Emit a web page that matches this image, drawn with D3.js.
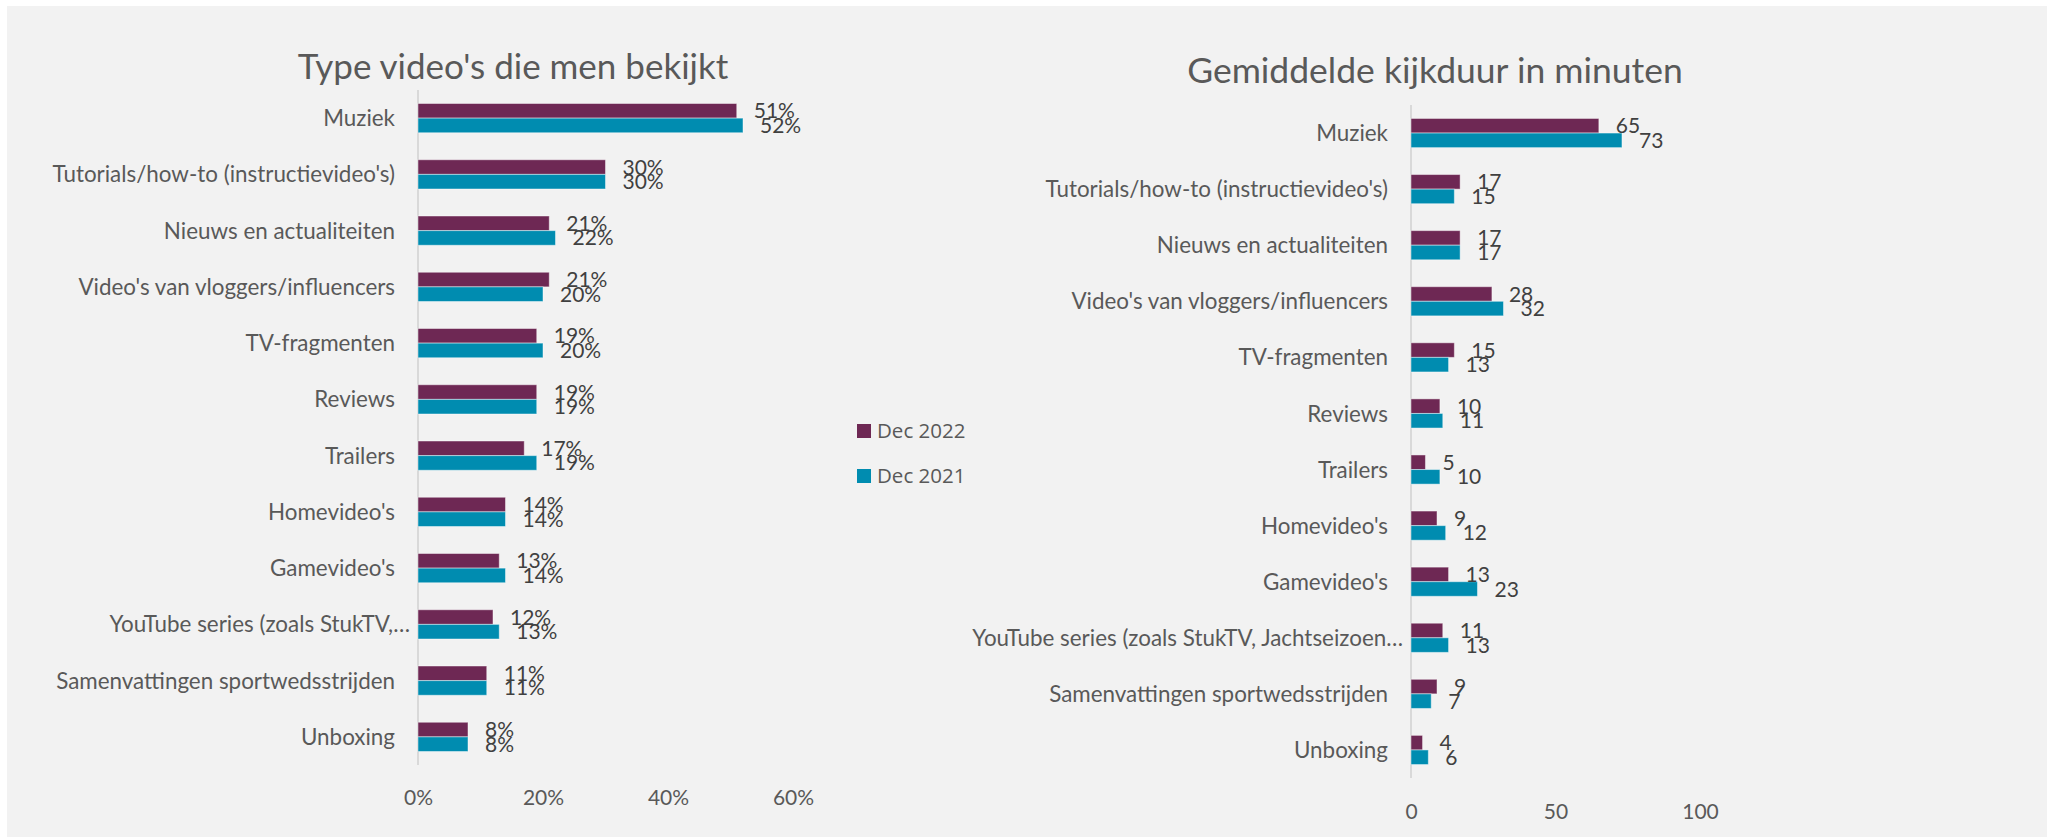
<!DOCTYPE html>
<html>
<head>
<meta charset="utf-8">
<script src="https://cdn.jsdelivr.net/npm/d3@7"></script>
<style>
  html, body { margin: 0; padding: 0; background: #ffffff; }
  svg { display: block; }
</style>
</head>
<body>
<svg id="chart" width="2047" height="837"></svg>
<script>
// Video types and average viewing time, Dec 2022 vs Dec 2021
const categories = [
  "Muziek",
  "Tutorials/how-to (instructievideo's)",
  "Nieuws en actualiteiten",
  "Video's van vloggers/influencers",
  "TV-fragmenten",
  "Reviews",
  "Trailers",
  "Homevideo's",
  "Gamevideo's",
  "YouTube series (zoals StukTV, Jachtseizoen, ...)",
  "Samenvattingen sportwedsstrijden",
  "Unboxing"
];
// Labels as they fit in each panel
const labelsShare = [
  "Muziek", "Tutorials/how-to (instructievideo's)", "Nieuws en actualiteiten",
  "Video's van vloggers/influencers", "TV-fragmenten", "Reviews", "Trailers",
  "Homevideo's", "Gamevideo's", "YouTube series (zoals StukTV,…",
  "Samenvattingen sportwedsstrijden", "Unboxing"
];
const labelsMinutes = [
  "Muziek", "Tutorials/how-to (instructievideo's)", "Nieuws en actualiteiten",
  "Video's van vloggers/influencers", "TV-fragmenten", "Reviews", "Trailers",
  "Homevideo's", "Gamevideo's", "YouTube series (zoals StukTV, Jachtseizoen…",
  "Samenvattingen sportwedsstrijden", "Unboxing"
];

const seriesNames = ["Dec 2022", "Dec 2021"];

// Share of viewers per video type (%)
const share2022 = [51, 30, 21, 21, 19, 19, 17, 14, 13, 12, 11, 8];
const share2021 = [52, 30, 22, 20, 20, 19, 19, 14, 14, 13, 11, 8];

// Average viewing time (minutes)
const minutes2022 = [65, 17, 17, 28, 15, 10, 5, 9, 13, 11, 9, 4];
const minutes2021 = [73, 15, 17, 32, 13, 11, 10, 12, 23, 13, 7, 6];

const shareTicks = [0, 20, 40, 60];
const minuteTicks = [0, 50, 100];

const colors = ["#6E2854", "#008CB0"];
const textColor = "#595959";
const valueColor = "#404040";
const labelFont = "Lato, 'Open Sans', sans-serif";

const svg = d3.select("#chart");

// panel background
svg.append("rect")
  .attr("x", 7).attr("y", 6)
  .attr("width", 2040).attr("height", 831)
  .attr("fill", "#F2F2F2");

function panel(opts) {
  const g = svg.append("g");
  const x = d3.scaleLinear().domain(opts.domain).range([opts.x0, opts.x1]);
  const y = d3.scaleBand().domain(d3.range(categories.length))
    .range([opts.y0, opts.y1]).paddingInner(0.48).paddingOuter(0.24);
  const ySub = d3.scaleBand().domain([0, 1]).range([0, y.bandwidth()]);

  // title
  g.append("text")
    .attr("x", opts.titleX).attr("y", opts.titleY)
    .attr("text-anchor", "middle")
    .attr("font-family", labelFont).attr("font-weight", 400)
    .attr("font-size", opts.titleSize).attr("fill", textColor)
    .text(opts.title);

  // value axis (bottom) – labels only
  const xAxis = d3.axisBottom(x).tickValues(opts.ticks)
    .tickFormat(opts.tickFormat).tickSize(0).tickPadding(0);
  const ax = g.append("g")
    .attr("transform", `translate(0,${opts.tickY})`)
    .call(xAxis);
  ax.select(".domain").remove();
  ax.selectAll("text")
    .attr("font-family", labelFont).attr("font-size", 21)
    .attr("fill", textColor).attr("dy", "0.36em");

  // category axis line
  g.append("line")
    .attr("x1", x(0)).attr("x2", x(0))
    .attr("y1", opts.y0).attr("y2", opts.y1)
    .attr("stroke", "#D0D0D0").attr("stroke-width", 1.5);

  // category labels; truncated ones overhang toward the axis
  g.selectAll("text.cat").data(opts.labels).join("text")
    .attr("class", "cat")
    .attr("x", d => x(0) - (d.endsWith("…") ? 8 : 23))
    .attr("y", (d, i) => y(i) + y.bandwidth() / 2)
    .attr("dy", "0.36em")
    .attr("text-anchor", "end")
    .attr("font-family", labelFont).attr("font-size", 22.4)
    .attr("fill", textColor)
    .text(d => d);

  const rows = [];
  categories.forEach((c, i) => {
    opts.values.forEach((vals, s) => rows.push({ i, s, v: vals[i] }));
  });

  g.selectAll("rect.bar").data(rows).join("rect")
    .attr("class", "bar")
    .attr("x", x(0))
    .attr("y", d => y(d.i) + ySub(d.s))
    .attr("width", d => x(d.v) - x(0))
    .attr("height", ySub.bandwidth())
    .attr("fill", d => colors[d.s])
    .attr("stroke", "rgba(255,255,255,0.45)")
    .attr("stroke-width", 1);

  g.selectAll("text.val").data(rows).join("text")
    .attr("class", "val")
    .attr("x", d => x(d.v) + 17)
    .attr("y", d => y(d.i) + ySub(d.s) + ySub.bandwidth() / 2)
    .attr("dy", "0.36em")
    .attr("font-family", labelFont).attr("font-size", 21)
    .attr("fill", valueColor)
    .text(d => opts.valueFormat(d.v));
}

panel({
  title: "Type video's die men bekijkt",
  titleX: 513, titleY: 79, titleSize: 35,
  domain: [0, 60], x0: 418, x1: 793,
  y0: 90, y1: 765, tickY: 797,
  ticks: shareTicks,
  tickFormat: d => d + "%",
  valueFormat: d => d + "%",
  labels: labelsShare,
  values: [share2022, share2021]
});

panel({
  title: "Gemiddelde kijkduur in minuten",
  titleX: 1435, titleY: 83, titleSize: 35.5,
  domain: [0, 100], x0: 1411, x1: 1700,
  y0: 105, y1: 778, tickY: 811,
  ticks: minuteTicks,
  tickFormat: d => d,
  valueFormat: d => d,
  labels: labelsMinutes,
  values: [minutes2022, minutes2021]
});

// legend
const legend = svg.append("g");
seriesNames.forEach((name, s) => {
  const ly = 424 + s * 45;
  legend.append("rect")
    .attr("x", 857).attr("y", ly)
    .attr("width", 14).attr("height", 14)
    .attr("fill", colors[s]);
  legend.append("text")
    .attr("x", 877).attr("y", ly + 14)
    .attr("font-family", "'Open Sans', sans-serif").attr("font-size", 20.5)
    .attr("fill", textColor)
    .text(name);
});
</script>
</body>
</html>
